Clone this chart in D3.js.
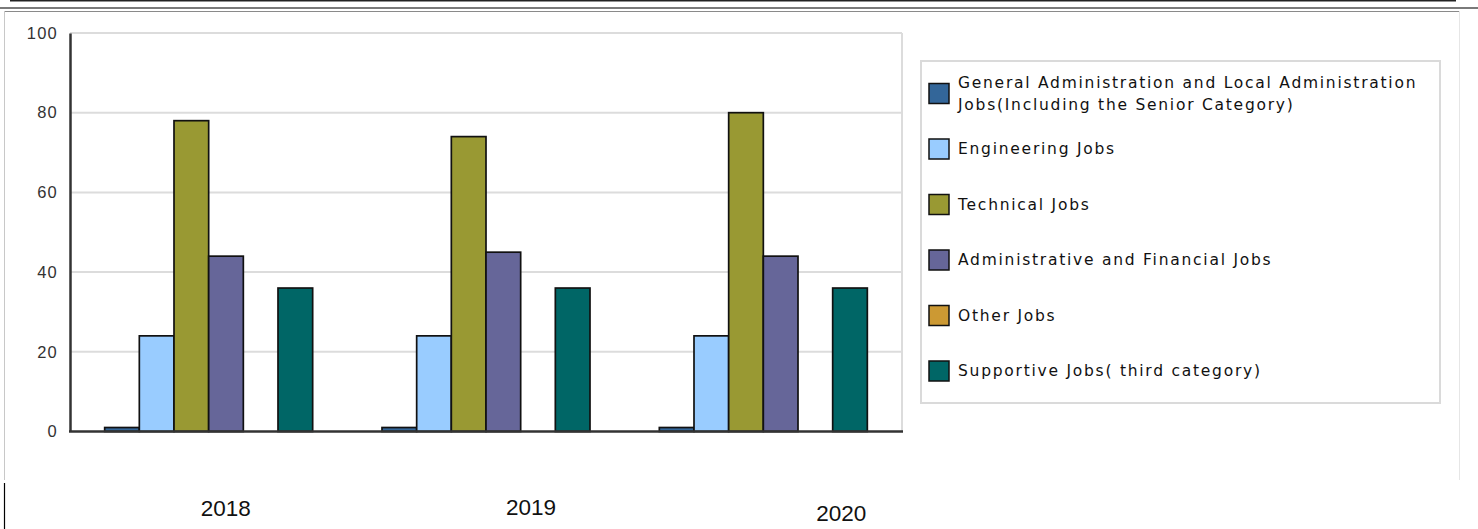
<!DOCTYPE html>
<html>
<head>
<meta charset="utf-8">
<script src="https://cdn.jsdelivr.net/npm/d3@7"></script>
<style>
  html, body { margin: 0; padding: 0; background: #fff; }
  svg { display: block; }
</style>
</head>
<body>
<svg id="chart" width="1478" height="529"></svg>
<script>
// Job categories by year
const years = ["2018", "2019", "2020"];
const seriesNames = [
  "General Administration and Local Administration Jobs (Including the Senior Category)",
  "Engineering Jobs",
  "Technical Jobs",
  "Administrative and Financial Jobs",
  "Other Jobs",
  "Supportive Jobs ( third category)"
];
const legendLines = [
  ["General Administration and Local Administration", "Jobs(Including the Senior Category)"],
  ["Engineering Jobs"],
  ["Technical Jobs"],
  ["Administrative and Financial Jobs"],
  ["Other Jobs"],
  ["Supportive Jobs( third category)"]
];
const seriesColors = ["#336699", "#99ccff", "#999933", "#666699", "#cc9933", "#006666"];
const generalAdmin   = [1, 1, 1];
const engineering    = [24, 24, 24];
const technical      = [78, 74, 80];
const adminFinancial = [44, 45, 44];
const otherJobs      = [0, 0, 0];
const supportive     = [36, 36, 36];
const yTicks = [0, 20, 40, 60, 80, 100];

const seriesValues = [generalAdmin, engineering, technical, adminFinancial, otherJobs, supportive];

const svg = d3.select("#chart");

// page frame lines
svg.append("rect").attr("x", 10).attr("y", 0).attr("width", 1446).attr("height", 1.5).attr("fill", "#222");
svg.append("rect").attr("x", 0).attr("y", 7).attr("width", 1478).attr("height", 2).attr("fill", "#7a7a7a");
svg.append("line").attr("x1", 4).attr("x2", 1459).attr("y1", 11.5).attr("y2", 11.5).attr("stroke", "#8a8a8a").attr("stroke-width", 1);
svg.append("line").attr("x1", 4.5).attr("x2", 4.5).attr("y1", 11).attr("y2", 480).attr("stroke", "#c8c8c8").attr("stroke-width", 1);
svg.append("line").attr("x1", 1459.5).attr("x2", 1459.5).attr("y1", 11).attr("y2", 480).attr("stroke", "#e6e6e6").attr("stroke-width", 1);
svg.append("line").attr("x1", 4.5).attr("x2", 4.5).attr("y1", 483).attr("y2", 529).attr("stroke", "#000").attr("stroke-width", 1.2);

// plot area
const plotLeft = 70, plotRight = 902, plotTop = 33, plotBottom = 431.5;

const y = d3.scaleLinear().domain([0, 100]).range([plotBottom, plotTop]);
const x0 = d3.scaleBand().domain(years).range([plotLeft, plotRight]).paddingInner(0).paddingOuter(0);
const x1 = d3.scaleBand().domain(d3.range(seriesNames.length)).range([0, x0.bandwidth()]).paddingInner(0).paddingOuter(1);

// gridlines
svg.append("g")
  .selectAll("line")
  .data(yTicks.filter(d => d > 0))
  .join("line")
  .attr("x1", plotLeft).attr("x2", plotRight)
  .attr("y1", d => y(d)).attr("y2", d => y(d))
  .attr("stroke", "#dcdcdc").attr("stroke-width", 2);

// plot right border
svg.append("line").attr("x1", plotRight).attr("x2", plotRight).attr("y1", plotTop).attr("y2", plotBottom)
  .attr("stroke", "#dcdcdc").attr("stroke-width", 2);

// bars
const groups = svg.append("g")
  .selectAll("g")
  .data(years)
  .join("g")
  .attr("transform", d => `translate(${x0(d)},0)`);

groups.selectAll("rect")
  .data((yr, i) => seriesValues.map((vals, s) => ({ s, v: vals[i] })).filter(d => d.v > 0))
  .join("rect")
  .attr("x", d => x1(d.s))
  .attr("width", x1.bandwidth())
  .attr("y", d => y(d.v))
  .attr("height", d => y(0) - y(d.v))
  .attr("fill", d => seriesColors[d.s])
  .attr("stroke", "#111")
  .attr("stroke-width", 1.7);

// y axis
const yAxis = svg.append("g")
  .attr("transform", `translate(${plotLeft},0)`)
  .call(d3.axisLeft(y).tickValues(yTicks).tickSize(0).tickPadding(12));
yAxis.select(".domain").attr("stroke", "#333").attr("stroke-width", 2.5);
yAxis.selectAll("text")
  .attr("font-family", "Liberation Sans, Arial, sans-serif")
  .attr("font-size", 16.5)
  .attr("letter-spacing", 1.2)
  .attr("fill", "#333");

// baseline
svg.append("line").attr("x1", plotLeft - 1).attr("x2", plotRight + 1).attr("y1", plotBottom).attr("y2", plotBottom)
  .attr("stroke", "#333").attr("stroke-width", 2.5);

// year labels below the plot
const labelShift = [17, 45, 78];
const labelBase = [516, 515, 521];
svg.append("g")
  .selectAll("text")
  .data(years)
  .join("text")
  .attr("x", (d, i) => x0(d) + x0.bandwidth() / 2 + labelShift[i])
  .attr("y", (d, i) => labelBase[i])
  .attr("text-anchor", "middle")
  .attr("font-family", "Liberation Sans, Arial, sans-serif")
  .attr("font-size", 22.5)
  .attr("fill", "#111")
  .text(d => d);

// legend
const legend = svg.append("g");
legend.append("rect")
  .attr("x", 921).attr("y", 61).attr("width", 519).attr("height", 342)
  .attr("fill", "#fff").attr("stroke", "#dadada").attr("stroke-width", 2);

const rowY = d3.scalePoint().domain(d3.range(seriesNames.length)).range([93.5, 371]);

const items = legend.selectAll("g.item")
  .data(seriesNames.map((n, i) => ({ n, i })))
  .join("g")
  .attr("class", "item");

items.append("rect")
  .attr("x", 929).attr("y", d => rowY(d.i) - 10)
  .attr("width", 20).attr("height", 20)
  .attr("fill", d => seriesColors[d.i])
  .attr("stroke", "#111").attr("stroke-width", 1.5);

items.each(function (d) {
  const lines = legendLines[d.i];
  const g = d3.select(this);
  const lh = 22;
  const y0 = rowY(d.i) + 5 - (lines.length - 1) * lh / 2;
  lines.forEach((t, k) => {
    g.append("text")
      .attr("x", 958)
      .attr("y", y0 + k * lh)
      .attr("font-family", "DejaVu Sans, sans-serif")
      .attr("font-size", 15.5)
      .attr("letter-spacing", 1.75)
      .attr("fill", "#111")
      .text(t);
  });
});
</script>
</body>
</html>
